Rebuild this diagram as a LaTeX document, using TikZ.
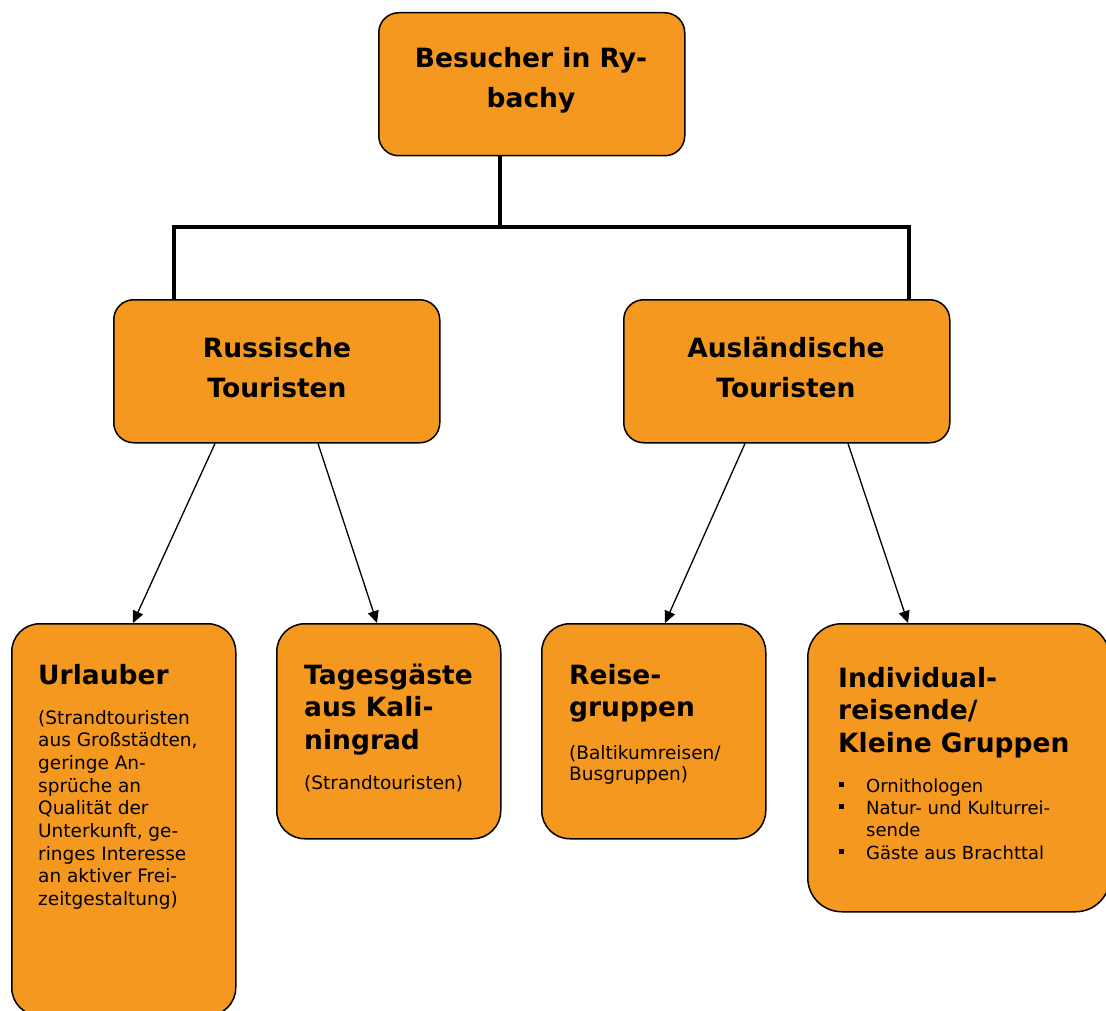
\documentclass[tikz,border=0pt]{standalone}
\usepackage{fontspec}
\setmainfont{DejaVu Sans}
\usetikzlibrary{arrows.meta,calc}
\definecolor{boxorange}{RGB}{244,152,32}
\begin{document}
\begin{tikzpicture}[x=1pt,y=-1pt,
  box/.style={draw=black, line width=1.5pt, fill=boxorange, rounded corners=#1, inner sep=0pt, anchor=north west},
  box/.default=26pt,
  bar/.style={line width=4pt, line join=miter},
  arr/.style={line width=1.3pt, -{Triangle[length=12pt,width=11pt]}},
  ttl/.style={font=\bfseries\fontsize{26.5}{40}\selectfont, align=center, anchor=base, inner sep=0pt},
  ltitle/.style={font=\bfseries\fontsize{26.5}{32.5}\selectfont, align=left, anchor=base west, inner sep=0pt},
  body/.style={font=\fontsize{18.5}{22.7}\selectfont, align=left, anchor=base west, inner sep=0pt}
]
\useasboundingbox (0,0) rectangle (1106,1011);
% boxes
\node[box=20pt, minimum width=306pt, minimum height=143pt] (top) at (378,12) {};
\node[box=20pt, minimum width=326pt, minimum height=143pt] (rus) at (113,299) {};
\node[box=20pt, minimum width=326pt, minimum height=143pt] (aus) at (623,299) {};
\node[box=28pt, minimum width=224pt, minimum height=392pt] (urlaub) at (11,623) {};
\node[box=28pt, minimum width=224pt, minimum height=215pt] (tages) at (276,623) {};
\node[box=28pt, minimum width=224pt, minimum height=215pt] (reise) at (541,623) {};
\node[box=34pt, minimum width=302pt, minimum height=288pt] (indiv) at (807,623) {};
% connectors
\coordinate (hl) at (174,227);
\coordinate (hr) at (909,227);
\coordinate (jn) at (500,227);
\draw[bar] (jn |- top.south) -- (jn);
\draw[bar] (hl |- rus.north) -- (hl) -- (hr) -- (hr |- aus.north);
\draw[arr] ($(rus.south west)+(102,0)$) -- ($(urlaub.north west)+(122,0)$);
\draw[arr] ($(rus.south west)+(205,0)$) -- ($(tages.north west)+(101,0)$);
\draw[arr] ($(aus.south west)+(122,0)$) -- ($(reise.north west)+(124,0)$);
\draw[arr] ($(aus.south west)+(225,0)$) -- ($(indiv.north west)+(101,0)$);
% texts (base anchor = baseline of last line)
\node[ttl] (toptext) at (531,108) {Besucher in Ry-\\bachy};
\node[ttl] (rustext) at (277,397) {Russische\\Touristen};
\node[ttl] (austext) at (786,397) {Ausländische\\Touristen};
\node[ltitle] (urlaubtitle) at (38,684) {Urlauber};
\node[body] (urlaubbody) at (38,905.6) {(Strandtouristen\\aus Großstädten,\\geringe An-\\sprüche an\\Qualität der\\Unterkunft, ge-\\ringes Interesse\\an aktiver Frei-\\zeitgestaltung)};
\node[ltitle] (tagestitle) at (304,749) {Tagesgäste\\aus Kali-\\ningrad};
\node[body] (tagesbody) at (304,789) {(Strandtouristen)};
\node[ltitle] (reisetitle) at (569,716.5) {Reise-\\gruppen};
\node[body, font=\fontsize{18.5}{21}\selectfont] (reisebody) at (569,780) {(Baltikumreisen/\\Busgruppen)};
\node[ltitle] (indivtitle) at (838,752) {Individual-\\reisende/\\Kleine Gruppen};
\node[body, font=\fontsize{18}{22.3}\selectfont] (indivbody) at (838,859) {\makebox[28pt][l]{\hspace*{1pt}\rule[5pt]{5pt}{5pt}}Ornithologen\\\makebox[28pt][l]{\hspace*{1pt}\rule[5pt]{5pt}{5pt}}Natur- und Kulturrei-\\\hspace*{28pt}sende\\\makebox[28pt][l]{\hspace*{1pt}\rule[5pt]{5pt}{5pt}}Gäste aus Brachttal};
\end{tikzpicture}
\end{document}
